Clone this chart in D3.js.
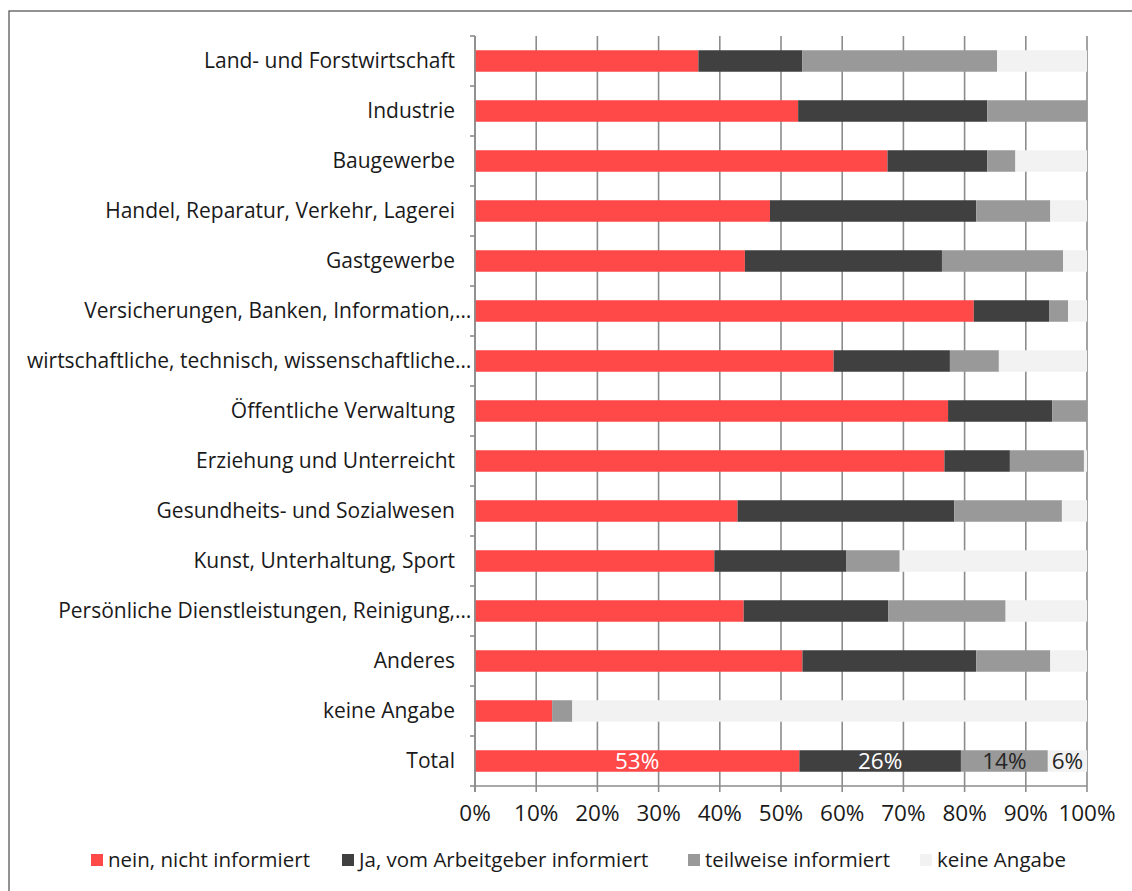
<!DOCTYPE html>
<html>
<head>
<meta charset="utf-8">
<script src="https://cdn.jsdelivr.net/npm/d3@7"></script>
<style>
  html, body { margin: 0; padding: 0; background: #fff; }
  svg { display: block; font-family: "Open Sans", "Noto Sans", sans-serif; }
</style>
</head>
<body>
<svg id="chart" width="1132" height="891"></svg>
<script>
// Branchen (Kategorien); "…" marks labels that are shortened on the axis
const categories = [
  "Land- und Forstwirtschaft",
  "Industrie",
  "Baugewerbe",
  "Handel, Reparatur, Verkehr, Lagerei",
  "Gastgewerbe",
  "Versicherungen, Banken, Information,…",
  "wirtschaftliche, technisch, wissenschaftliche…",
  "Öffentliche Verwaltung",
  "Erziehung und Unterreicht",
  "Gesundheits- und Sozialwesen",
  "Kunst, Unterhaltung, Sport",
  "Persönliche Dienstleistungen, Reinigung,…",
  "Anderes",
  "keine Angabe",
  "Total"
];

const seriesNames = [
  "nein, nicht informiert",
  "Ja, vom Arbeitgeber informiert",
  "teilweise informiert",
  "keine Angabe"
];

// Anteile in Prozent je Branche
const nein      = [36.5, 52.8, 67.4, 48.2, 44.1, 81.5, 58.6, 77.3, 76.7, 42.9, 39.1, 43.9, 53.5, 12.6, 53.0];
const ja        = [17.0, 30.9, 16.3, 33.7, 32.2, 12.3, 19.0, 17.0, 10.7, 35.4, 21.6, 23.6, 28.4,  0.0, 26.4];
const teilweise = [31.8, 16.3,  4.6, 12.1, 19.8,  3.1,  8.0,  5.7, 12.1, 17.6,  8.7, 19.2, 12.1,  3.3, 14.2];
const keine     = [14.7,  0.0, 11.7,  6.0,  3.9,  3.1, 14.4,  0.0,  0.5,  4.1, 30.6, 13.3,  6.0, 84.1,  6.4];

// Only the Total row carries value labels
const labelledRow = "Total";

const xTicks = [0, 10, 20, 30, 40, 50, 60, 70, 80, 90, 100];
const colors = ["#ff4848", "#404040", "#999999", "#f2f2f2"];
const labelColors = ["#ffffff", "#ffffff", "#262626", "#262626"];

const rows = categories.map((c, i) => ({
  cat: c, nein: nein[i], ja: ja[i], teilweise: teilweise[i], keine: keine[i]
}));
const keys = ["nein", "ja", "teilweise", "keine"];

const svg = d3.select("#chart");
const plotLeft = 475, plotRight = 1087, plotTop = 36, plotBottom = 786;

// outer frame
svg.append("rect")
  .attr("x", 9).attr("y", 11).attr("width", 1140).attr("height", 900)
  .attr("fill", "none").attr("stroke", "#595959").attr("stroke-width", 1.3);

const x = d3.scaleLinear().domain([0, 100]).range([plotLeft, plotRight]);
const y = d3.scaleBand().domain(categories).range([plotTop, plotBottom]).padding(0);
const barH = y.bandwidth() * 0.43;

const axisColor = "#8c8c8c";

// vertical gridlines
svg.append("g").selectAll("line").data(xTicks).join("line")
  .attr("x1", d => x(d)).attr("x2", d => x(d))
  .attr("y1", plotTop).attr("y2", plotBottom)
  .attr("stroke", axisColor).attr("stroke-width", 1.6);

// stacked bars
const stack = d3.stack().keys(keys)(rows);
const layers = svg.append("g").selectAll("g").data(stack).join("g")
  .attr("fill", (d, i) => colors[i]);
layers.selectAll("rect").data(d => d).join("rect")
  .attr("x", d => x(d[0]))
  .attr("width", d => Math.max(0, x(d[1]) - x(d[0])))
  .attr("y", d => y(d.data.cat) + (y.bandwidth() - barH) / 2)
  .attr("height", barH);

// value labels in the Total row
stack.forEach((layer, i) => {
  const seg = layer.find(d => d.data.cat === labelledRow);
  svg.append("text")
    .attr("x", (x(seg[0]) + x(seg[1])) / 2)
    .attr("y", y(labelledRow) + y.bandwidth() / 2)
    .attr("dy", "0.36em")
    .attr("text-anchor", "middle")
    .attr("font-size", 22.5)
    .attr("fill", labelColors[i])
    .text(Math.round(seg[1] - seg[0]) + "%");
});

// category axis
const yAxis = svg.append("g");
yAxis.append("line")
  .attr("x1", plotLeft).attr("x2", plotLeft).attr("y1", plotTop).attr("y2", plotBottom + 6)
  .attr("stroke", axisColor).attr("stroke-width", 1.6);
yAxis.selectAll("line.tick").data(categories.concat([null])).join("line")
  .attr("class", "tick")
  .attr("x1", plotLeft - 5).attr("x2", plotLeft)
  .attr("y1", (d, i) => plotTop + i * y.step())
  .attr("y2", (d, i) => plotTop + i * y.step())
  .attr("stroke", axisColor).attr("stroke-width", 1.6);

const catFont = 21;
const labelG = yAxis.selectAll("g.lab").data(categories).join("g").attr("class", "lab");
labelG.append("text")
  .attr("x", plotLeft - 20)
  .attr("y", d => y(d) + y.bandwidth() / 2)
  .attr("dy", "0.35em")
  .attr("text-anchor", "end")
  .attr("font-size", catFont)
  .attr("fill", "#1a1a1a")
  .text(d => d.endsWith("…") ? d.slice(0, -1) : d);
labelG.filter(d => d.endsWith("…")).append("text")
  .attr("x", plotLeft - 20)
  .attr("y", d => y(d) + y.bandwidth() / 2)
  .attr("dy", "0.35em")
  .attr("text-anchor", "start")
  .attr("font-size", catFont)
  .attr("fill", "#1a1a1a")
  .text("…");

// percentage axis
const xAxis = svg.append("g");
xAxis.append("line")
  .attr("x1", plotLeft).attr("x2", plotRight).attr("y1", plotBottom).attr("y2", plotBottom)
  .attr("stroke", axisColor).attr("stroke-width", 1.6);
xAxis.selectAll("line.tick").data(xTicks).join("line")
  .attr("class", "tick")
  .attr("x1", d => x(d)).attr("x2", d => x(d))
  .attr("y1", plotBottom).attr("y2", plotBottom + 6)
  .attr("stroke", axisColor).attr("stroke-width", 1.6);
xAxis.selectAll("text").data(xTicks).join("text")
  .attr("x", d => x(d))
  .attr("y", 813)
  .attr("dy", "0.36em")
  .attr("text-anchor", "middle")
  .attr("font-size", 22.5)
  .attr("fill", "#1a1a1a")
  .text(d => d + "%");

// legend
const legendX = [91, 342, 688, 920];
const legend = svg.append("g").selectAll("g").data(seriesNames).join("g")
  .attr("transform", (d, i) => `translate(${legendX[i]},860)`);
legend.append("rect")
  .attr("x", 0).attr("y", -6).attr("width", 12).attr("height", 12)
  .attr("fill", (d, i) => colors[i]);
legend.append("text")
  .attr("x", 17).attr("y", 0).attr("dy", "0.35em")
  .attr("font-size", 20.5)
  .attr("fill", "#1a1a1a")
  .text(d => d);
</script>
</body>
</html>
